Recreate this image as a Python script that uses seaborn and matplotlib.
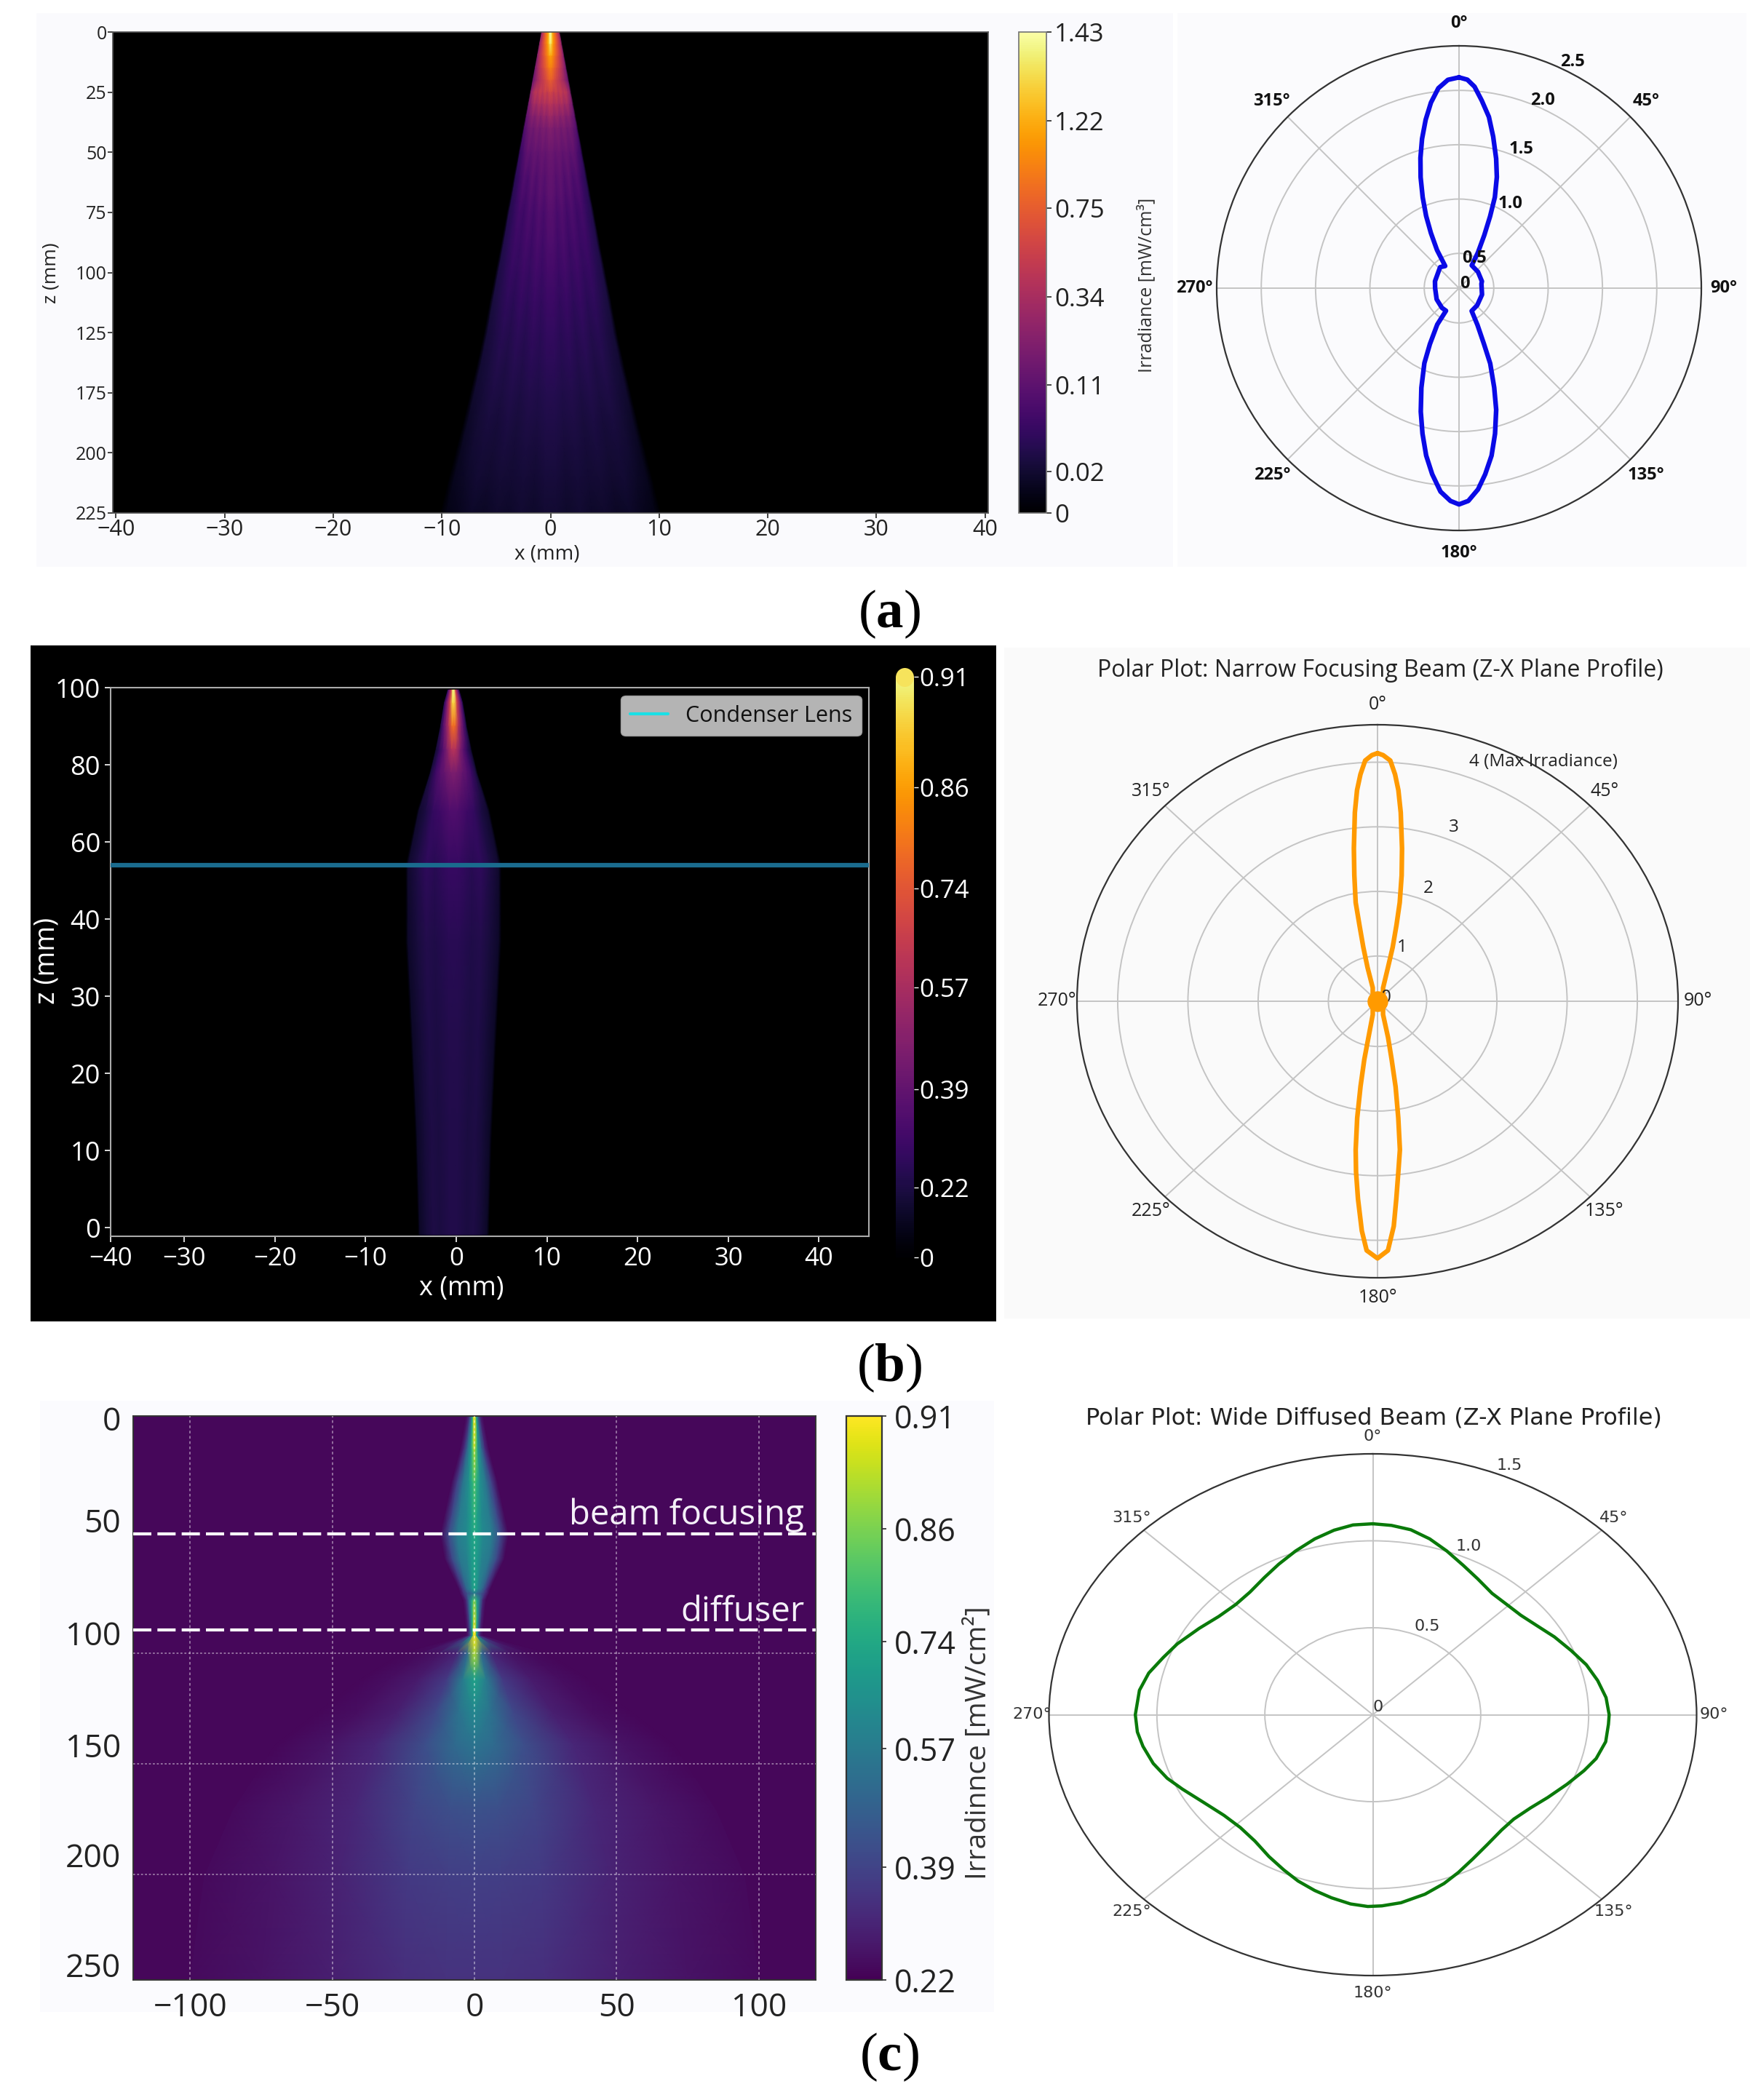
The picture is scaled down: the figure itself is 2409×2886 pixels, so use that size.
import numpy as np
import matplotlib
matplotlib.use("Agg")
import matplotlib.pyplot as plt
import matplotlib.colors as mcolors
from matplotlib.lines import Line2D
from matplotlib.patches import Rectangle, Ellipse
import seaborn as sns

W, H = 2409, 2886
sns.set_theme(style="white")
plt.rcParams["font.family"] = ["Open Sans", "DejaVu Sans"]
plt.rcParams["mathtext.fontset"] = "custom"
plt.rcParams["mathtext.rm"] = "Liberation Serif"
plt.rcParams["mathtext.bf"] = "Liberation Serif:bold"

# ---------- data: panel (a)
a_x_ticks = [-40, -30, -20, -10, 0, 10, 20, 30, 40]
a_z_labels = ["0", "25", "50", "75", "100", "125", "175", "200", "225"]
a_cb_vals = [0, 0.02, 0.11, 0.34, 0.75, 1.22, 1.43]
a_cb_frac = [0, 0.086, 0.267, 0.45, 0.634, 0.816, 1.0]
a_z = [0, 5, 10, 15, 20, 25, 30, 35, 40, 50, 60, 68, 75, 88, 100, 112, 125, 138, 150, 162, 175, 188, 200]
a_width = [0.8, 1.0, 1.2, 1.4, 1.6, 1.8, 2.0, 2.2, 2.4, 2.8, 3.2, 3.5, 3.8, 4.3, 4.8, 5.3, 5.8, 6.4, 7.0, 7.6, 8.3, 9.0, 9.6]
a_peak = [1.43, 1.35, 1.15, 0.95, 0.75, 0.58, 0.42, 0.30, 0.22, 0.15, 0.12, 0.11, 0.10, 0.09, 0.08, 0.07, 0.06, 0.052, 0.045, 0.038, 0.032, 0.026, 0.021]
a_u = [-1.05, -1, -0.88, -0.76, -0.64, -0.52, -0.4, -0.28, -0.16, -0.06, 0.06, 0.16, 0.28, 0.4, 0.52, 0.64, 0.76, 0.88, 1, 1.05]
a_near = [0, 0.2, 0.3, 0.4, 0.5, 0.6, 0.7, 0.8, 0.92, 1, 1, 0.92, 0.8, 0.7, 0.6, 0.5, 0.4, 0.3, 0.2, 0]
a_far = [0, 0.42, 0.6, 0.8, 0.72, 0.9, 0.78, 0.96, 0.84, 1, 1, 0.84, 0.96, 0.78, 0.9, 0.72, 0.8, 0.6, 0.42, 0]

a_theta = [0, 2.3, 4.4, 6.9, 9.9, 12.7, 16, 18.8, 21.5, 23.4, 25.5, 28, 29.2, 49.3, 73.4, 79.2, 105.7, 133.4, 151,
           153.4, 155.9, 157.5, 160.5, 163, 166.1, 169, 172, 174.6, 177.5, 180, 182.3, 185.2, 188.2, 191.1, 194.1,
           197.2, 200.7, 204.8, 207.5, 210.9, 209.9, 220.9, 243.4, 270, 286, 318, 328, 330, 333, 335.5, 338.2, 340.9,
           343.5, 346.1, 348.8, 351.4, 354.1, 356.95, 360]
a_r = [2.12, 2.10, 2.04, 1.92, 1.78, 1.61, 1.42, 1.26, 1.08, 0.90, 0.72, 0.55, 0.42, 0.41, 0.40, 0.39, 0.40, 0.41, 0.42,
       0.56, 0.74, 0.93, 1.15, 1.35, 1.56, 1.75, 1.91, 2.04, 2.14, 2.17, 2.14, 2.06, 1.91, 1.75, 1.56,
       1.37, 1.16, 0.94, 0.76, 0.57, 0.42, 0.42, 0.41, 0.40, 0.41, 0.44, 0.42, 0.585, 0.75, 0.91, 1.08, 1.26,
       1.43, 1.596, 1.76, 1.907, 2.03, 2.10, 2.12]
a_ring_labels = ["2.5", "2.0", "1.5", "1.0", "0.5", "0"]
a_ring_theta = [26.7, 24, 24, 31.5, 27, 52.6]
a_ring_r = [2.51, 2.07, 1.58, 1.09, 0.49, 0.25]

# ---------- data: panel (b)
b_x_labels = ["\u221240", "\u221230", "\u221220", "\u221210", "0", "10", "20", "30", "40"]
b_x_ticks = [-38.1, -30, -20, -10, 0, 10, 20, 30, 40]
b_z_labels = ["0", "10", "20", "30", "40", "60", "80", "100"]
b_cb_vals = [0, 0.22, 0.39, 0.57, 0.74, 0.86, 0.91]
b_cb_frac = [0, 0.12, 0.29, 0.465, 0.635, 0.81, 1.0]
b_z = [6.97, 6.8, 6.5, 6.2, 5.9, 5.4, 4.7, 3.7, 2.5, 1.2, -0.09]
b_width = [0.6, 1.0, 1.4, 1.9, 2.5, 3.8, 5.0, 5.0, 4.5, 4.0, 3.7]
b_peak = [0.91, 0.89, 0.78, 0.60, 0.45, 0.34, 0.28, 0.25, 0.24, 0.235, 0.235]
b_u = [-1.05, -1, -0.8, -0.6, -0.4, -0.12, 0.12, 0.4, 0.6, 0.8, 1, 1.05]
b_near = [0, 0.3, 0.45, 0.6, 0.75, 1, 1, 0.75, 0.6, 0.45, 0.3, 0]
b_mid = [0, 0.45, 0.65, 0.8, 0.88, 1, 1, 0.88, 0.8, 0.65, 0.45, 0]
b_far = [0, 0.55, 0.8, 0.95, 0.9, 1, 1, 0.9, 0.95, 0.8, 0.55, 0]
b_lens = 4.70

b_theta = [0, 1.2, 2.8, 4.07, 5.2, 6.46, 8.4, 10, 11.7, 12.9, 14.5, 15.9, 21,
           159, 165, 167.4, 169, 170.7, 172.1, 173.6, 175, 176.2, 177.8, 180,
           182.3, 183.6, 185.2, 186.6, 187.7, 189.1, 190.4, 191.8, 193, 198,
           342, 344.8, 346.4, 347.7, 348.5, 350.4, 351.9, 353.7, 354.9, 356.04, 357.3, 358.8, 360]
b_r = [4.14, 4.11, 4.03, 3.82, 3.58, 3.24, 2.69, 2.28, 1.86, 1.51, 1.16, 0.84, 0.52,
       0.52, 0.88, 1.22, 1.65, 2.13, 2.62, 2.96, 3.37, 3.79, 4.16, 4.28,
       4.16, 3.86, 3.37, 2.96, 2.62, 2.13, 1.64, 1.22, 0.87, 0.52,
       0.52, 0.84, 1.16, 1.51, 1.86, 2.28, 2.69, 3.24, 3.58, 3.82, 4.03, 4.11, 4.14]
b_ring_labels = ["4 (Max Irradiance)", "3", "2", "1", "0"]
b_ring_theta = [32.5, 22, 22.6, 22.8, 64]
b_ring_r = [4.7, 3.2, 2.19, 1.2, 0.43]

# ---------- data: panel (c)
c_x_ticks = [-100, -50, 0, 50, 100]
c_x_labels = ["\u2212100", "\u221250", "0", "50", "100"]
c_z_ticks = [1, 47.5, 99, 150, 200, 250]
c_z_labels = ["0", "50", "100", "150", "200", "250"]
c_cb_vals = [0.22, 0.39, 0.57, 0.74, 0.86, 0.91]
c_cb_frac = [0, 0.2, 0.41, 0.6, 0.8, 1.0]
c_background = 0.235
c_grid_z = [108, 158.5, 209]
c_focus_z = 53.7
c_diffuser_z = 97.6
c_z = [0, 15, 30, 45, 54, 65, 79, 81, 84, 97, 100, 108, 120, 135, 150, 180, 210, 257]
c_width = [3, 5, 8, 10.5, 12, 10.5, 5.5, 5, 4, 3, 3, 25, 40, 55, 70, 85, 95, 100]
c_u_half = [0, 0.1, 0.25, 0.5, 0.75, 1.0]
c_s0 = [0.91, 0.89, 0.70, 0.40, 0.27, 0.235]
c_s1 = [0.89, 0.84, 0.68, 0.50, 0.32, 0.235]
c_s2 = [0.82, 0.76, 0.65, 0.55, 0.38, 0.235]
c_s3 = [0.78, 0.70, 0.62, 0.57, 0.40, 0.235]
c_s4 = [0.74, 0.70, 0.62, 0.58, 0.42, 0.235]
c_s5 = [0.72, 0.68, 0.60, 0.56, 0.40, 0.235]
c_s6 = [0.72, 0.70, 0.60, 0.50, 0.35, 0.235]
c_s7 = [0.55, 0.52, 0.48, 0.42, 0.33, 0.235]
c_s8 = [0.82, 0.80, 0.70, 0.50, 0.30, 0.235]
c_s9 = [0.91, 0.90, 0.75, 0.45, 0.28, 0.235]
c_s10 = [0.91, 0.90, 0.70, 0.40, 0.27, 0.235]
c_s11 = [0.88, 0.50, 0.30, 0.26, 0.245, 0.235]
c_s12 = [0.72, 0.58, 0.36, 0.28, 0.25, 0.235]
c_s13 = [0.62, 0.54, 0.40, 0.29, 0.25, 0.235]
c_s14 = [0.55, 0.51, 0.42, 0.31, 0.26, 0.235]
c_s15 = [0.43, 0.42, 0.39, 0.31, 0.27, 0.24]
c_s16 = [0.38, 0.375, 0.36, 0.30, 0.265, 0.24]
c_s17 = [0.34, 0.34, 0.33, 0.29, 0.26, 0.24]
c_rows = [c_s0, c_s1, c_s2, c_s3, c_s4, c_s5, c_s6, c_s7, c_s8, c_s9, c_s10, c_s11,
          c_s12, c_s13, c_s14, c_s15, c_s16, c_s17]

c_theta = [0, 4.55, 9.4, 14.6, 20, 26.1, 31.9, 38.4, 44.3, 50.2, 56.3, 62, 68.1, 73.8, 79.3, 84.8, 90,
           92.9, 98.2, 103.7, 108.2, 113.9, 120.4, 126.3, 132.6, 138, 144.6, 150.8, 156.4, 161.2, 166.8, 173.1, 177.8,
           181.2, 185.4, 190.3, 194.9, 199.9, 204.8, 210.5, 216.9, 223.4, 230, 236.9, 244.1, 249, 254.6, 260.3, 264.8, 270,
           277.4, 283, 288.7, 294.2, 301.7, 308.4, 315, 321.1, 327.5, 333.3, 339.2, 345.1, 350.4, 355.2, 360]
c_r = [1.098, 1.092, 1.078, 1.045, 1.002, 0.955, 0.92, 0.89, 0.887, 0.893, 0.918, 0.953, 0.99, 1.03, 1.06, 1.085, 1.095,
       1.093, 1.09, 1.065, 1.03, 0.985, 0.94, 0.906, 0.887, 0.892, 0.916, 0.95, 0.99, 1.025, 1.06, 1.089, 1.10,
       1.103, 1.093, 1.07, 1.046, 1.017, 0.983, 0.947, 0.909, 0.893, 0.90, 0.93, 0.98, 1.02, 1.055, 1.08, 1.095, 1.10,
       1.09, 1.065, 1.025, 0.993, 0.945, 0.91, 0.897, 0.906, 0.935, 0.969, 1.007, 1.046, 1.076, 1.095, 1.098]
c_ring_labels = ["1.5", "1.0", "0.5", "0"]
c_ring_theta = [23.8, 24.6, 26.5, 28]
c_ring_r = [1.565, 1.067, 0.568, 0.05]

angle_ticks = [0, 45, 90, 135, 180, 225, 270, 315]
angle_labels = ["0\u00b0", "45\u00b0", "90\u00b0", "135\u00b0", "180\u00b0", "225\u00b0", "270\u00b0", "315\u00b0"]

# ---------- helpers
fig = plt.figure(figsize=(W / 100, H / 100), dpi=100, facecolor="white")


def box(l, t, r, b, **kw):
    return fig.add_axes([l / W, 1 - b / H, (r - l) / W, (b - t) / H], **kw)


def panel(l, t, r, b, color):
    fig.add_artist(Rectangle((l / W, 1 - b / H), (r - l) / W, (b - t) / H,
                             transform=fig.transFigure, facecolor=color, edgecolor="none", zorder=-5))


def make_norm(vals, fracs):
    return mcolors.FuncNorm((lambda v: np.interp(v, vals, fracs),
                             lambda f: np.interp(f, fracs, vals)), vmin=vals[0], vmax=vals[-1])


def polar(rect, curve_t, curve_r, rlim, rings, ring_txt, ring_t, ring_r, color, lw,
          size, weight, txtcolor, pad, rsize=None, family=None):
    ax = box(*rect, projection="polar")
    ax.set_aspect("auto")
    ax.set_theta_zero_location("N")
    ax.set_theta_direction(-1)
    ax.set_facecolor("none")
    sns.lineplot(x=np.deg2rad(curve_t), y=curve_r, sort=False, estimator=None, color=color,
                 linewidth=lw, ax=ax, legend=False, solid_joinstyle="round", zorder=3)
    ax.set_xlabel("")
    ax.set_ylabel("")
    ax.set_xticks(np.deg2rad(angle_ticks))
    ax.set_xticklabels(angle_labels, fontsize=size, fontweight=weight, color=txtcolor, family=family)
    ax.tick_params(axis="x", pad=pad)
    ax.set_yticks(rings)
    ax.set_yticklabels([])
    ax.set_rlim(*rlim)
    ax.grid(True, color="#c4c4c4", linewidth=1.4)
    ax.spines["polar"].set_color("#333333")
    ax.spines["polar"].set_linewidth(1.6)
    for s, t, r in zip(ring_txt, ring_t, ring_r):
        ax.text(np.deg2rad(t), r, s, ha="center", va="center", fontsize=rsize or size,
                fontweight=weight, color=txtcolor, zorder=5, family=family)
    return ax


# ---------- backgrounds
panel(50, 18, 1612, 779, "#fafafd")
panel(1618, 18, 2400, 779, "#fbfbfd")
panel(42, 887, 1369, 1816, "black")
panel(1380, 890, 2405, 1812, "#fafafa")
panel(55, 1925, 1366, 2765, "#fbfbfe")

# ---------- (a) heat map
ax = box(155, 44, 1358, 705)
ax.set_facecolor("black")
norm = make_norm(a_cb_vals, a_cb_frac)
zz = np.array(a_z, float)
X = np.outer(a_width, a_u)
Z = np.repeat(zz[:, None], len(a_u), axis=1)
prof = np.where(zz[:, None] < 25, np.array(a_near)[None, :], np.array(a_far)[None, :])
m = ax.pcolormesh(X, Z, np.array(a_peak)[:, None] * prof, shading="gouraud", cmap="inferno", norm=norm)
ax.set_xlim(-40.3, 40.3)
ax.set_ylim(200, 0)
ax.set_xticks(a_x_ticks)
ax.set_xticklabels([str(v).replace("-", "\u2212") for v in a_x_ticks], fontsize=22)
ax.set_yticks(np.arange(0, 201, 25))
ax.set_yticklabels(a_z_labels, fontsize=18)
ax.tick_params(length=5, width=1.2, colors="#222222", bottom=True, left=True, pad=1)
for s in ax.spines.values():
    s.set_color("#555555")
cax = box(1400, 44, 1438, 705)
cb = fig.colorbar(m, cax=cax, ticks=a_cb_vals)
cb.ax.set_yticklabels([str(v) for v in a_cb_vals], fontsize=25, color="#222222")
cb.ax.tick_params(length=5, width=1.2, right=True, pad=3)
cb.outline.set_edgecolor("#777777")
fig.text(70 / W, 1 - 375 / H, "z (mm)", rotation=90, ha="center", va="center", fontsize=19, color="#222222")
fig.text(752 / W, 1 - 762 / H, "x (mm)", ha="center", va="center", fontsize=20, color="#222222")
fig.text(1575 / W, 1 - 392 / H, "Irradiance [mW/cm\u00b3]", rotation=90, ha="center", va="center", fontsize=18, color="#333333")

polar((1672, 63, 2338, 729), a_theta, a_r, (0.18, 2.41), [0.5, 1.0, 1.5, 2.0],
      a_ring_labels, a_ring_theta, a_ring_r, "#0a0ae6", 4.6, 17, "bold", "#111111", 9)

# ---------- (b) heat map
ax = box(152, 945, 1194, 1699)
ax.set_facecolor("black")
norm = make_norm(b_cb_vals, b_cb_frac)
inferno_b = mcolors.ListedColormap(plt.get_cmap("inferno")(np.linspace(0, 0.965, 256)))
zz = np.array(b_z, float)
X = np.outer(b_width, b_u) - 0.3
Z = np.repeat(zz[:, None], len(b_u), axis=1)
prof = np.where(zz[:, None] > 6.1, np.array(b_near)[None, :],
                np.where(zz[:, None] > 5.0, np.array(b_mid)[None, :], np.array(b_far)[None, :]))
m = ax.pcolormesh(X, Z, np.array(b_peak)[:, None] * prof, shading="gouraud", cmap=inferno_b, norm=norm)
ax.axhline(b_lens, color="#1a6b8e", linewidth=4.5, zorder=4)
ax.set_xlim(-38.1, 45.5)
ax.set_ylim(-0.11, 7.0)
ax.set_xticks(b_x_ticks)
ax.set_xticklabels(b_x_labels, fontsize=25)
ax.set_yticks(np.arange(8))
ax.set_yticklabels(b_z_labels, fontsize=26)
ax.tick_params(length=6, width=1.2, colors="white", bottom=True, left=True, pad=4)
for s in ax.spines.values():
    s.set_color("#aaaaaa")
    s.set_linewidth(1.5)
leg = ax.legend([Line2D([0], [0], color="#19e0e6", linewidth=3)], ["Condenser Lens"], loc="upper right",
                bbox_to_anchor=(0.99, 0.985), borderaxespad=0, fontsize=22, facecolor="#b4b4b4",
                edgecolor="#a0a0a0", framealpha=1, labelcolor="#111111", handlelength=1.7, fancybox=True)
cax = box(1231, 930, 1256, 1728)
cb = fig.colorbar(m, cax=cax, ticks=b_cb_vals)
cb.ax.set_yticklabels([str(v) for v in b_cb_vals], fontsize=25, color="white")
cb.ax.tick_params(length=4, width=1, right=True, pad=1, color="white")
cb.outline.set_visible(False)
fig.add_artist(Ellipse((1243.5 / W, 1 - 931 / H), 25 / W, 26 / H, transform=fig.transFigure,
                       facecolor="#f6e35c", edgecolor="none"))
fig.text(64 / W, 1 - 1320 / H, "z (mm)", rotation=90, ha="center", va="center", fontsize=27, color="white")
fig.text(634 / W, 1 - 1771 / H, "x (mm)", ha="center", va="center", fontsize=26, color="white")

ax_b = polar((1480, 996, 2306, 1756), b_theta, b_r, (0.3, 4.58), [1, 2, 3, 4],
             b_ring_labels, b_ring_theta, b_ring_r, "#ff9a00", 4.6, 18, "normal", "#222222", 7, rsize=17.5)
sns.scatterplot(x=[0.0], y=[0.3], s=420, color="#ff9a00", linewidth=0, ax=ax_b, zorder=4, legend=False, clip_on=False)
ax_b.set_xlabel("")
ax_b.set_ylabel("")
ax_b.texts[-1].set_zorder(3)
fig.text(1897 / W, 1 - 921 / H, "Polar Plot: Narrow Focusing Beam (Z-X Plane Profile)",
         ha="center", va="center", fontsize=23, color="#222222")

# ---------- (c) heat map
ax = box(183, 1946, 1121, 2721)
norm = make_norm(c_cb_vals, c_cb_frac)
ax.set_facecolor(plt.get_cmap("viridis")(float(norm(c_background))))
half = np.array(c_rows)
C = np.hstack([half[:, :0:-1], half])
u_all = np.concatenate([-np.array(c_u_half)[:0:-1], c_u_half])
X = np.outer(c_width, u_all)
Z = np.repeat(np.array(c_z, float)[:, None], len(u_all), axis=1)
m = ax.pcolormesh(X, Z, C, shading="gouraud", cmap="viridis", norm=norm)
ax.set_xlim(-120, 120)
ax.set_ylim(257, 0)
ax.set_xticks(c_x_ticks)
ax.set_xticklabels(c_x_labels)
ax.set_yticks(c_z_ticks)
ax.set_yticklabels(c_z_labels)
ax.tick_params(length=0, labelsize=32, colors="#222222", pad=12)
for v in c_x_ticks:
    ax.axvline(v, color="white", alpha=0.45, linewidth=1.3, linestyle=(0, (2, 2)), zorder=3)
for v in c_grid_z:
    ax.axhline(v, color="white", alpha=0.45, linewidth=1.3, linestyle=(0, (1.5, 1.5)), zorder=3)
for v in (c_focus_z, c_diffuser_z):
    ax.axhline(v, color="white", linewidth=3, linestyle=(0, (6, 2)), zorder=4)
ax.text(116, c_focus_z - 0.5, "beam focusing", color="#f4f0f8", fontsize=34, ha="right", va="bottom", zorder=5)
ax.text(116, c_diffuser_z - 0.5, "diffuser", color="#f4f0f8", fontsize=34, ha="right", va="bottom", zorder=5)
for s in ax.spines.values():
    s.set_color("#333333")
    s.set_linewidth(1.4)
cax = box(1163, 1946, 1212, 2721)
cb = fig.colorbar(m, cax=cax, ticks=c_cb_vals)
cb.ax.set_yticklabels([str(v) for v in c_cb_vals], fontsize=31, color="#222222")
cb.ax.tick_params(length=4, width=1.2, right=True, pad=8)
cb.outline.set_edgecolor("#333333")
cb.outline.set_linewidth(1.6)
fig.text(1344 / W, 1 - 2395 / H, "Irradinnce [mW/cm\u00b2]", rotation=90, ha="center", va="center", fontsize=28, color="#333333")

polar((1441.5, 1998, 2331.5, 2715), c_theta, c_r, (0, 1.5), [0.5, 1.0],
      c_ring_labels, c_ring_theta, c_ring_r, "#0a7a0a", 3.2, 16, "normal", "#333333", 4, family="DejaVu Sans")
fig.text(1888 / W, 1 - 1949 / H, "Polar Plot: Wide Diffused Beam (Z-X Plane Profile)",
         ha="center", va="center", fontsize=23, color="#222222", family="DejaVu Sans")

# ---------- captions
for label, y in zip("abc", [844, 1880, 2827]):
    fig.text(1222 / W, 1 - y / H, r"($\mathbf{" + label + r"}$)", ha="center", va="center",
             fontsize=54, color="black", family="Liberation Serif")

fig.savefig("out.png", dpi=100)
